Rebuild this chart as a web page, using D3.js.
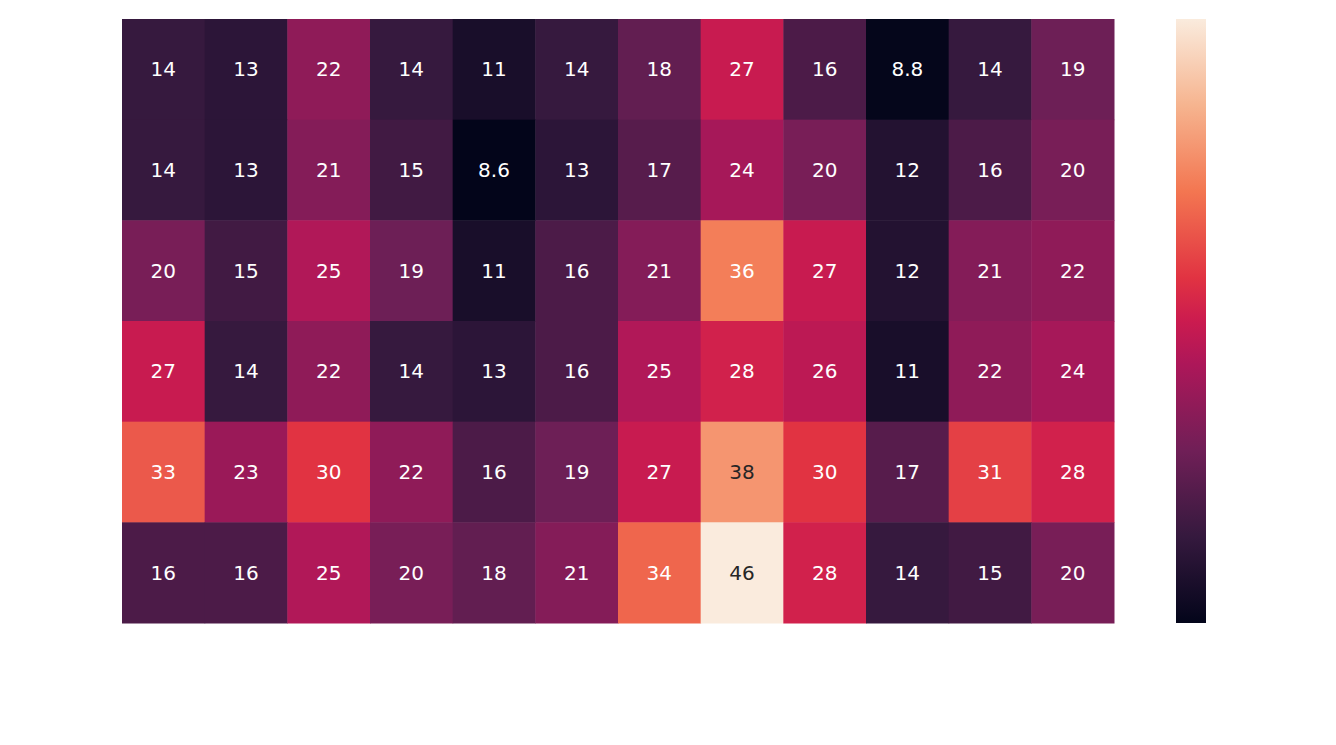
<!DOCTYPE html>
<html>
<head>
<meta charset="utf-8">
<script src="https://cdn.jsdelivr.net/npm/d3@7"></script>
<style>
  body { margin: 0; background: #fff; }
  text { font-family: "DejaVu Sans", sans-serif; }
</style>
</head>
<body>
<svg id="chart" width="1336" height="745"></svg>
<script>
"use strict";
// values, row by row
const rowIds = [0, 1, 2, 3, 4, 5];
const colIds = [0, 1, 2, 3, 4, 5, 6, 7, 8, 9, 10, 11];
const values = [
    [14, 13, 22, 14, 11, 14, 18, 27, 16, 8.8, 14, 19],
    [14, 13, 21, 15, 8.6, 13, 17, 24, 20, 12, 16, 20],
    [20, 15, 25, 19, 11, 16, 21, 36, 27, 12, 21, 22],
    [27, 14, 22, 14, 13, 16, 25, 28, 26, 11, 22, 24],
    [33, 23, 30, 22, 16, 19, 27, 38, 30, 17, 31, 28],
    [16, 16, 25, 20, 18, 21, 34, 46, 28, 14, 15, 20]
];
// approximate "rocket" colormap: positions and colours
const rocketPos = [0, 1 / 7, 2 / 7, 3 / 7, 0.5, 4 / 7, 5 / 7, 6 / 7, 1];
const rocketStops = ["#03051a", "#35193e", "#701f57", "#ad1759", "#cb1b4f",
    "#e13342", "#f37651", "#f6b48f", "#faebdd"];

const svg = d3.select("#chart");
const plotLeft = 122, plotTop = 19, plotRight = 1114, plotBottom = 623;

const x = d3.scaleBand().domain(colIds).range([plotLeft, plotRight]);
const y = d3.scaleBand().domain(rowIds).range([plotTop, plotBottom]);

const flat = values.flat();
const vmin = d3.min(flat), vmax = d3.max(flat);
const rocket = d3.scaleLinear()
    .domain(rocketPos)
    .range(rocketStops)
    .interpolate(d3.interpolateRgb)
    .clamp(true);
const color = v => rocket((v - vmin) / (vmax - vmin));

function luminance(c) {
    const rgb = d3.rgb(c);
    const ch = [rgb.r, rgb.g, rgb.b].map(v => {
        v /= 255;
        return v <= 0.03928 ? v / 12.92 : Math.pow((v + 0.055) / 1.055, 2.4);
    });
    return 0.2126 * ch[0] + 0.7152 * ch[1] + 0.0722 * ch[2];
}

const cells = [];
values.forEach((row, r) => row.forEach((v, c) => cells.push({ r, c, v })));

const g = svg.append("g");
g.selectAll("rect")
    .data(cells)
    .enter().append("rect")
    .attr("x", d => x(d.c))
    .attr("y", d => y(d.r))
    .attr("width", x.bandwidth() + 0.5)
    .attr("height", y.bandwidth() + 0.5)
    .attr("fill", d => color(d.v));

g.selectAll("text")
    .data(cells)
    .enter().append("text")
    .attr("x", d => x(d.c) + x.bandwidth() / 2)
    .attr("y", d => y(d.r) + y.bandwidth() / 2)
    .attr("text-anchor", "middle")
    .attr("dominant-baseline", "central")
    .attr("font-size", 20)
    .attr("fill", d => luminance(color(d.v)) > 0.408 ? "#262626" : "#ffffff")
    .text(d => d3.format(".2~r")(d.v));

// colorbar
const cbX = 1176, cbW = 30;
const cbScale = d3.scaleLinear().domain([vmin, vmax]).range([plotBottom, plotTop]);
const defs = svg.append("defs");
const grad = defs.append("linearGradient")
    .attr("id", "cbgrad")
    .attr("x1", 0).attr("y1", 1).attr("x2", 0).attr("y2", 0);
grad.selectAll("stop")
    .data(rocketStops)
    .enter().append("stop")
    .attr("offset", (d, i) => rocketPos[i])
    .attr("stop-color", d => d);
svg.append("rect")
    .attr("x", cbX)
    .attr("y", cbScale(vmax))
    .attr("width", cbW)
    .attr("height", cbScale(vmin) - cbScale(vmax))
    .attr("fill", "url(#cbgrad)");
</script>
</body>
</html>
